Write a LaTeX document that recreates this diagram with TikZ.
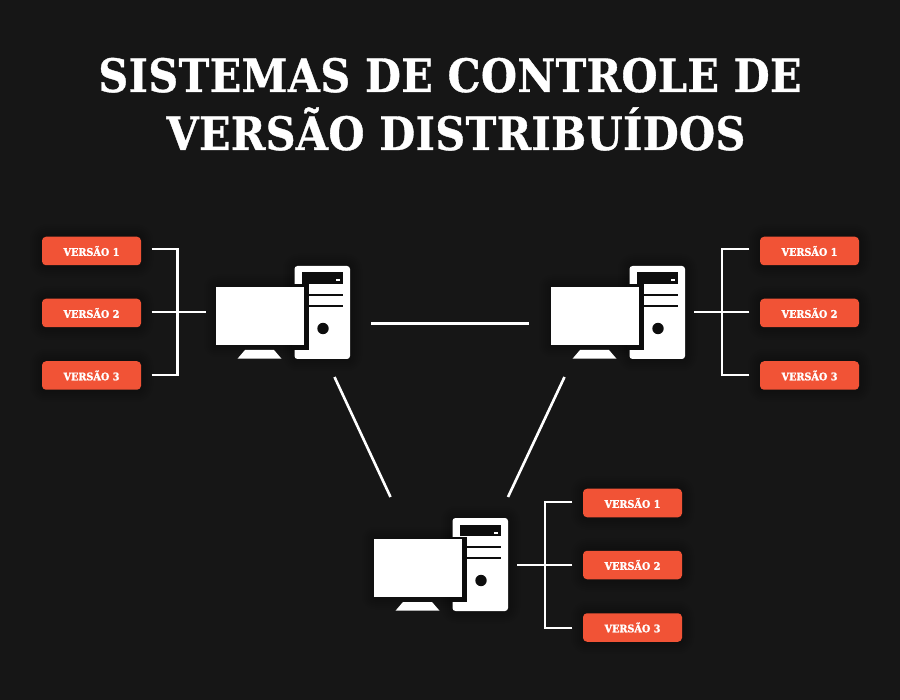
\documentclass[tikz,border=0pt]{standalone}
\usepackage{fontspec}
\setmainfont{DejaVu Serif}
\newfontfamily\titlefont[FakeStretch=0.90,FakeBold=0.8,LetterSpace=0.8]{DejaVu Serif}
\newfontfamily\badgefont[FakeStretch=0.92,FakeBold=1.6]{DejaVu Serif}
\usetikzlibrary{calc,positioning}
\definecolor{bgc}{HTML}{161616}
\definecolor{badgec}{HTML}{F15336}
\tikzset{
  x=1pt,y=-1pt,
  titletext/.style={text=white,inner sep=0pt,font=\titlefont\bfseries\fontsize{46}{46}\selectfont},
  badge/.style={fill=badgec,rounded corners=4pt,minimum width=99pt,minimum height=28.5pt,inner sep=0pt,text=white,font=\badgefont\bfseries\fontsize{10.5}{12}\selectfont},
  pcbox/.style={minimum width=135pt,minimum height=93pt,inner sep=0pt},
  wire/.style={draw=white,line width=2.3pt},
  link/.style={draw=white,line width=2.6pt},
}
\newcommand{\softshadow}[5]{% x1 y1 x2 y2 radius
  \foreach \g in {12,10,8,6,4,2}{
    \fill[black,opacity=0.04,rounded corners=#5+\g] (#1-\g,#2-\g) rectangle (#3+\g,#4+\g);
  }
}
\newcommand{\computer}[3]{% name, dx, dy
  \begin{scope}[shift={(#2,#3)}]
    \softshadow{216}{287}{304}{345}{1}
    \softshadow{295}{266}{350}{359}{3}
    \fill[white,rounded corners=3pt] (294.5,266) rectangle (350,359);
    \fill[bgc!60!black] (302,272.5) rectangle (343,284);
    \fill[white] (336,279.5) rectangle (340,281.5);
    \fill[bgc!60!black] (308,294.2) rectangle (343,296);
    \fill[bgc!60!black] (308,305.2) rectangle (343,307);
    \fill[bgc!60!black] (323,328.5) circle[radius=5.7];
    \fill[bgc!60!black] (292,284.5) rectangle (308.5,350);
    \fill[white] (216,287) rectangle (304,345);
    \fill[white] (245,350) -- (274,350) -- (281.5,358.7) -- (237.5,358.7) -- cycle;
    \node[pcbox] (#1) at (282.5,312.5) {};
  \end{scope}
}
\newcommand{\badgeat}[4]{% name, cx, cy, text
  \softshadow{#2-49.5}{#3-14.25}{#2+49.5}{#3+14.25}{4}
  \node[badge] (#1) at (#2,#3) {#4};
}
\begin{document}
\begin{tikzpicture}
\useasboundingbox (0,0) rectangle (900,700);
\fill[bgc] (0,0) rectangle (900,700);

\node[titletext,anchor=base] (t1) at (450,92) {SISTEMAS DE CONTROLE DE};
\node[titletext,anchor=base] (t2) at (456,150) {VERSÃO DISTRIBUÍDOS};

\computer{pca}{0}{0}
\computer{pcb}{335}{0}
\computer{pcc}{158}{252}

\badgeat{a1}{91.5}{251}{VERSÃO 1}
\badgeat{a2}{91.5}{313}{VERSÃO 2}
\badgeat{a3}{91.5}{375.5}{VERSÃO 3}
\badgeat{b1}{809.5}{251}{VERSÃO 1}
\badgeat{b2}{809.5}{313}{VERSÃO 2}
\badgeat{b3}{809.5}{375.5}{VERSÃO 3}
\badgeat{c1}{632.5}{503}{VERSÃO 1}
\badgeat{c2}{632.5}{565}{VERSÃO 2}
\badgeat{c3}{632.5}{627.5}{VERSÃO 3}

% links between computers
\coordinate (abL) at (371,323.5);
\coordinate (abR) at (529,323.5);
\coordinate (acT) at (334.5,377);
\coordinate (acB) at (390.5,497);
\coordinate (bcT) at (564.5,377);
\coordinate (bcB) at (508,497);
\draw[link] (abL) -- (abR);
\draw[link] (acT) -- (acB);
\draw[link] (bcT) -- (bcB);

% brackets
\coordinate (ja) at (177.5,312.3);
\coordinate (jb) at (722,312.3);
\coordinate (jc) at (545,564.8);
\coordinate (pa) at (206,312.3);
\coordinate (pb) at (694,312.3);
\coordinate (pc) at (517,564.8);
\draw[wire,shorten <=10.5pt] ($(a1.east)+(0,-1.7)$) -| (ja);
\draw[wire,shorten <=10.5pt] ($(a3.east)+(0,-0.2)$) -| (ja);
\draw[wire,shorten <=10.5pt] (a2.east |- ja) -- (pa);
\draw[wire,shorten <=10.5pt] ($(b1.west)+(0,-1.7)$) -| (jb);
\draw[wire,shorten <=10.5pt] ($(b3.west)+(0,-0.2)$) -| (jb);
\draw[wire,shorten <=10.5pt] (b2.west |- jb) -- (pb);
\draw[wire,shorten <=10.5pt] ($(c1.west)+(0,-1)$) -| (jc);
\draw[wire,shorten <=10.5pt] ($(c3.west)+(0,0.3)$) -| (jc);
\draw[wire,shorten <=10.5pt] (c2.west |- jc) -- (pc);
\end{tikzpicture}
\end{document}
